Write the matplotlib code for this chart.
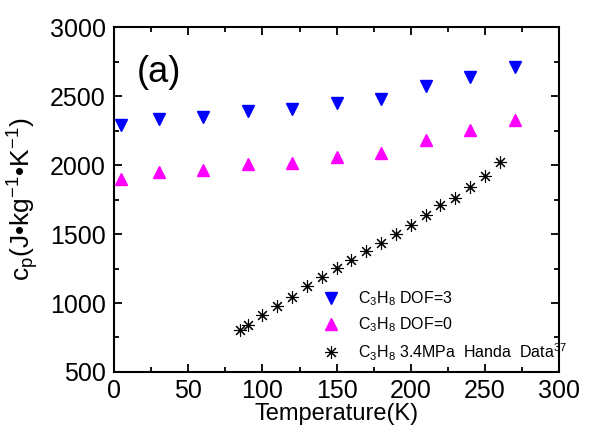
import matplotlib
matplotlib.use("Agg")
import matplotlib.pyplot as plt
from matplotlib.ticker import MultipleLocator

plt.rcParams["font.family"] = ["Liberation Sans", "DejaVu Sans"]
plt.rcParams["mathtext.fontset"] = "custom"
plt.rcParams["mathtext.rm"] = "Liberation Sans"
plt.rcParams["mathtext.it"] = "Liberation Sans"
plt.rcParams["mathtext.default"] = "regular"

# simulated heat capacity, two DOF settings
temp_sim = [5, 30, 60, 90, 120, 150, 180, 210, 240, 270]
cp_dof3 = [2288, 2336, 2350, 2396, 2404, 2449, 2481, 2572, 2640, 2710]
cp_dof0 = [1901, 1949, 1961, 2010, 2012, 2061, 2090, 2185, 2252, 2325]

# experimental reference data at 3.4 MPa
temp_exp = [85, 90, 100, 110, 120, 130, 140, 150, 160, 170,
            180, 190, 200, 210, 220, 230, 240, 250, 260]
cp_exp = [805, 839, 912, 975, 1047, 1120, 1190, 1251, 1312, 1375,
          1433, 1498, 1566, 1636, 1712, 1762, 1840, 1922, 2024]

fig = plt.figure(figsize=(6.0, 4.32), dpi=100)
ax = fig.add_axes([0.19, 0.139, 0.742, 0.798])

ax.plot(temp_sim, cp_dof3, ls="none", marker="v", ms=8.5, color="#0000ff",
        mec="#0000ff", label=r"C$_3$H$_8$ DOF=3")
ax.plot(temp_sim, cp_dof0, ls="none", marker="^", ms=8.5, color="#ff00ff",
        mec="#ff00ff", label=r"C$_3$H$_8$ DOF=0")
ax.plot(temp_exp, cp_exp, ls="none", marker=(8, 2, 0), ms=9, mew=0.8,
        color="black", label=r"C$_3$H$_8$ 3.4MPa  Handa  Data$^{37}$")

ax.set_xlim(0, 300)
ax.set_ylim(500, 3000)
ax.xaxis.set_major_locator(MultipleLocator(50))
ax.xaxis.set_minor_locator(MultipleLocator(25))
ax.yaxis.set_major_locator(MultipleLocator(500))
ax.yaxis.set_minor_locator(MultipleLocator(250))
ax.tick_params(which="both", direction="in", top=True, right=True,
               labeltop=False, labelright=False, width=1.3)
ax.tick_params(which="major", length=6, labelsize=18)
ax.tick_params(which="minor", length=3.5)
ax.tick_params(axis="x", which="major", pad=5)
ax.tick_params(axis="y", which="major", pad=6)
for sp in ax.spines.values():
    sp.set_linewidth(1.5)

ax.set_xlabel("Temperature(K)", fontsize=17, labelpad=0)
ax.set_ylabel(r"c$_p$(J•kg$^{-1}$•K$^{-1}$)", fontsize=19)
ax.yaxis.set_label_coords(-0.165, 0.5)

ax.text(0.05, 0.87, "(a)", transform=ax.transAxes, fontsize=26,
        va="center", ha="left")

ax.legend(loc="lower left", bbox_to_anchor=(0.44, -0.01), frameon=False,
          fontsize=11.5, handlelength=1.0, handletextpad=1.2,
          labelspacing=0.45, borderpad=0.3)

fig.savefig("out.png", dpi=100)
